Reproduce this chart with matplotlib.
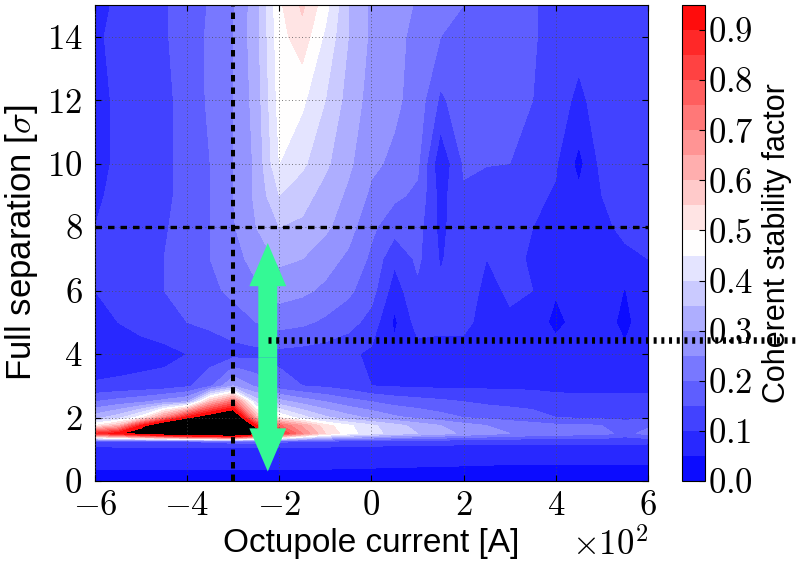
import numpy as np
import matplotlib
matplotlib.use("Agg")
import matplotlib.pyplot as plt

# Octupole current [A] and full beam separation [sigma] of the scan grid
current = np.array([-600, -550, -500, -450, -400, -350, -300, -250, -200, -150, -100, -50,
                    0, 50, 100, 150, 200, 250, 300, 350, 400, 450, 500, 550, 600])
separation = np.array([0.0, 0.25, 0.5, 1.0, 1.25, 1.5, 1.75, 2.0, 2.5, 3.0,
                       4.0, 5.0, 6.0, 7.0, 8.0, 9.0, 10.0, 12.0, 14.0, 15.0])

# Coherent stability factor, one row per separation value
stability = np.array([
    [0.02, 0.02, 0.02, 0.02, 0.02, 0.02, 0.02, 0.02, 0.02, 0.02, 0.02, 0.02, 0.02, 0.02, 0.02, 0.02, 0.02, 0.02, 0.02, 0.02, 0.02, 0.02, 0.02, 0.02, 0.02],
    [0.04, 0.04, 0.04, 0.04, 0.04, 0.04, 0.04, 0.04, 0.04, 0.04, 0.04, 0.04, 0.04, 0.04, 0.04, 0.04, 0.04, 0.04, 0.04, 0.04, 0.04, 0.04, 0.04, 0.04, 0.04],
    [0.06, 0.06, 0.06, 0.06, 0.06, 0.06, 0.06, 0.06, 0.06, 0.06, 0.06, 0.058, 0.056, 0.054, 0.053, 0.052, 0.051, 0.050, 0.049, 0.049, 0.049, 0.049, 0.049, 0.049, 0.049],
    [0.085, 0.085, 0.085, 0.085, 0.085, 0.085, 0.085, 0.085, 0.085, 0.085, 0.085, 0.085, 0.085, 0.08, 0.08, 0.08, 0.08, 0.08, 0.08, 0.08, 0.08, 0.08, 0.08, 0.08, 0.08],
    [0.13, 0.14, 0.14, 0.15, 0.15, 0.16, 0.17, 0.17, 0.16, 0.15, 0.14, 0.13, 0.13, 0.12, 0.12, 0.12, 0.115, 0.115, 0.11, 0.11, 0.11, 0.11, 0.11, 0.11, 0.11],
    [0.86, 0.93, 1.05, 1.15, 1.25, 1.30, 1.35, 1.10, 0.88, 0.70, 0.55, 0.47, 0.42, 0.38, 0.35, 0.32, 0.29, 0.27, 0.25, 0.24, 0.23, 0.22, 0.22, 0.18, 0.22],
    [0.50, 0.60, 0.90, 1.15, 1.30, 1.30, 1.30, 0.90, 0.76, 0.64, 0.52, 0.46, 0.41, 0.37, 0.33, 0.30, 0.27, 0.25, 0.23, 0.22, 0.21, 0.21, 0.20, 0.17, 0.19],
    [0.33, 0.38, 0.48, 0.70, 0.93, 1.05, 1.15, 0.62, 0.50, 0.42, 0.36, 0.32, 0.29, 0.26, 0.24, 0.22, 0.20, 0.19, 0.18, 0.17, 0.15, 0.145, 0.14, 0.14, 0.14],
    [0.20, 0.22, 0.24, 0.27, 0.30, 0.60, 0.75, 0.38, 0.32, 0.28, 0.25, 0.22, 0.20, 0.18, 0.17, 0.16, 0.15, 0.14, 0.135, 0.13, 0.12, 0.115, 0.115, 0.115, 0.115],
    [0.105, 0.11, 0.115, 0.12, 0.14, 0.19, 0.30, 0.24, 0.17, 0.15, 0.14, 0.125, 0.10, 0.095, 0.09, 0.09, 0.09, 0.09, 0.09, 0.088, 0.085, 0.085, 0.085, 0.085, 0.085],
    [0.075, 0.075, 0.08, 0.085, 0.10, 0.12, 0.13, 0.135, 0.135, 0.13, 0.125, 0.11, 0.09, 0.065, 0.08, 0.085, 0.085, 0.085, 0.085, 0.08, 0.075, 0.075, 0.075, 0.06, 0.08],
    [0.095, 0.10, 0.115, 0.13, 0.15, 0.16, 0.18, 0.20, 0.22, 0.21, 0.19, 0.17, 0.13, 0.04, 0.12, 0.11, 0.11, 0.085, 0.095, 0.08, 0.035, 0.07, 0.075, 0.035, 0.085],
    [0.10, 0.115, 0.13, 0.15, 0.17, 0.19, 0.21, 0.24, 0.27, 0.26, 0.24, 0.21, 0.17, 0.075, 0.14, 0.11, 0.12, 0.09, 0.105, 0.10, 0.055, 0.08, 0.08, 0.048, 0.09],
    [0.10, 0.12, 0.13, 0.15, 0.17, 0.20, 0.23, 0.27, 0.31, 0.30, 0.27, 0.24, 0.19, 0.11, 0.16, 0.095, 0.13, 0.10, 0.11, 0.095, 0.085, 0.075, 0.085, 0.09, 0.10],
    [0.10, 0.12, 0.125, 0.145, 0.17, 0.20, 0.245, 0.30, 0.35, 0.34, 0.31, 0.27, 0.21, 0.17, 0.17, 0.085, 0.14, 0.115, 0.12, 0.10, 0.09, 0.07, 0.09, 0.11, 0.115],
    [0.09, 0.115, 0.125, 0.14, 0.165, 0.20, 0.25, 0.31, 0.40, 0.37, 0.33, 0.29, 0.24, 0.21, 0.19, 0.08, 0.145, 0.13, 0.13, 0.11, 0.095, 0.06, 0.10, 0.105, 0.115],
    [0.08, 0.11, 0.125, 0.14, 0.165, 0.20, 0.25, 0.31, 0.45, 0.41, 0.36, 0.31, 0.26, 0.24, 0.21, 0.06, 0.155, 0.152, 0.15, 0.13, 0.105, 0.035, 0.115, 0.12, 0.12],
    [0.08, 0.11, 0.125, 0.14, 0.165, 0.21, 0.25, 0.32, 0.47, 0.46, 0.40, 0.33, 0.28, 0.26, 0.23, 0.14, 0.18, 0.17, 0.165, 0.15, 0.12, 0.09, 0.12, 0.12, 0.12],
    [0.09, 0.115, 0.125, 0.145, 0.17, 0.21, 0.25, 0.33, 0.48, 0.53, 0.44, 0.35, 0.29, 0.265, 0.235, 0.20, 0.19, 0.18, 0.17, 0.155, 0.13, 0.115, 0.125, 0.125, 0.125],
    [0.08, 0.11, 0.125, 0.145, 0.17, 0.205, 0.245, 0.33, 0.49, 0.56, 0.47, 0.35, 0.29, 0.27, 0.245, 0.22, 0.20, 0.18, 0.17, 0.155, 0.13, 0.125, 0.125, 0.125, 0.125],
])

# Operating point markers
octupole_setting = -300.0   # [A]
design_separation = 8.0     # [sigma]
minimum_separation = 4.45   # [sigma]
scan_current = -225.0       # [A]
scan_range = (0.3, 7.5)     # [sigma]

plt.rcParams.update({
    "font.family": "cmr10",
    "mathtext.fontset": "cm",
    "axes.formatter.use_mathtext": True,
    "axes.unicode_minus": True,
    "xtick.direction": "in",
    "ytick.direction": "in",
    "xtick.top": True,
    "ytick.right": True,
    "xtick.major.size": 4,
    "ytick.major.size": 4,
    "xtick.labelsize": 25,
    "ytick.labelsize": 25,
})
label_font = dict(family="Liberation Sans", size=24)

fig = plt.figure(figsize=(7.96, 5.63), dpi=100)
ax = fig.add_axes([0.1193, 0.1456, 0.6947, 0.8455])
cax = fig.add_axes([0.8568, 0.1456, 0.0289, 0.8455])

levels = np.linspace(0.0, 0.95, 20)
ax.set_facecolor("black")  # values above the top level stay unfilled
X, Y = np.meshgrid(current, separation)
cs = ax.contourf(X, Y, stability, levels=levels, cmap="bwr")

ax.set_xlim(-600, 600)
ax.set_ylim(0, 15)
ax.set_xticks(np.arange(-600, 601, 200))
ax.set_yticks(np.arange(0, 15, 2))
ax.ticklabel_format(axis="x", style="sci", scilimits=(0, 0), useMathText=True)
ax.xaxis.get_offset_text().set_fontsize(25)
ax.tick_params(axis="x", pad=7)
ax.tick_params(axis="y", pad=9)
ax.set_axisbelow(False)
ax.grid(True, color="0.3", linestyle=(0, (1, 3)), linewidth=0.6)

ax.set_xlabel("Octupole current [A]", fontdict=label_font, labelpad=4)
ax.set_ylabel(r"Full separation [$\sigma$]", family="Liberation Sans", size=25, labelpad=5)

# Scan arrow (double headed)
green = "#34f995"
mid = 0.5 * (scan_range[0] + scan_range[1])
half = 0.5 * (scan_range[1] - scan_range[0])
for sign in (1, -1):
    ax.arrow(scan_current, mid, 0, sign * half, width=41, head_width=80,
             head_length=1.36, length_includes_head=True, color=green,
             linewidth=0, zorder=4)

# Reference lines
ax.axvline(octupole_setting, color="k", linewidth=2.9, linestyle=(0, (1.6, 1.5)), zorder=5)
ax.axhline(design_separation, color="k", linewidth=2.4, linestyle=(0, (1.95, 1.8)), zorder=5)
x0 = (scan_current - current[0]) / (current[-1] - current[0])
ax.axhline(minimum_separation, xmin=x0, xmax=1.27, color="k", linewidth=4.7,
           linestyle=(0, (0.46, 0.72)), clip_on=False, zorder=6)

cbar = fig.colorbar(cs, cax=cax)
cbar.set_ticks(np.arange(0.0, 0.91, 0.1))
cbar.ax.tick_params(labelsize=25, pad=2)
cbar.set_label("Coherent stability factor", family="Liberation Sans", size=22, labelpad=6)

ax.set_zorder(cax.get_zorder() + 1)

fig.savefig("out.png", dpi=100)
